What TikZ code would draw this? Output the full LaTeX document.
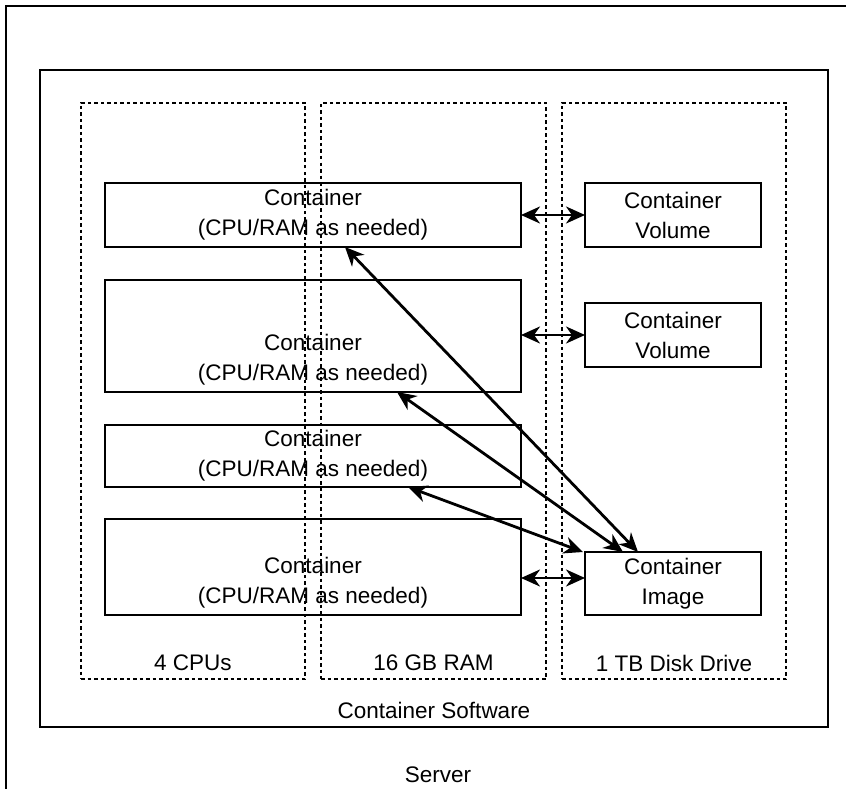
\documentclass[tikz,border=0pt]{standalone}
\usepackage{fontspec}
\setmainfont{Liberation Sans}
\usetikzlibrary{arrows.meta}

\tikzset{
  frame/.style={draw, line width=2pt, inner sep=0pt, outer sep=0pt},
  column/.style={draw, dashed, dash pattern=on 3.5pt off 3pt, line width=1.6pt, inner sep=0pt, outer sep=0pt},
  box/.style={draw, line width=1.9pt, inner sep=0pt, outer sep=0pt, align=center},
  boxtext/.style={label={[anchor=center, align=center, yshift=#1]south:Container\\(CPU/RAM as needed)}},
  bottomtext/.style 2 args={label={[anchor=center, yshift=#1]south:#2}},
  link/.style={{Stealth[length=19pt, width=17pt, inset=6pt]}-{Stealth[length=19pt, width=17pt, inset=6pt]}, line width=2.8pt}
}

\begin{document}
\begin{tikzpicture}[x=1pt, y=-1pt, font=\fontsize{22.5}{30}\selectfont]
    \useasboundingbox (0,0) rectangle (846,789);
    \clip (0,0) rectangle (846,789);

    % Server and container software
    \node[frame, minimum width=864, minimum height=804, bottomtext={35}{Server}] (server) at (438,408) {};
    \node[frame, minimum width=788, minimum height=657, bottomtext={17}{Container Software}] (software) at (434,398.5) {};

    % Resources
    \node[column, minimum width=224, minimum height=576, bottomtext={16}{4 CPUs}] (cpus) at (193,391) {};
    \node[column, minimum width=225, minimum height=576, bottomtext={16}{16 GB RAM}] (ram) at (433.5,391) {};
    \node[column, minimum width=224, minimum height=576, bottomtext={16}{1 TB Disk Drive}] (disk) at (674,391) {};

    % Containers
    \node[box, minimum width=416, minimum height=64, boxtext=32] (c1) at (313,215) {};
    \node[box, minimum width=416, minimum height=112, boxtext=32] (c2) at (313,336) {};
    \node[box, minimum width=416, minimum height=62, boxtext=31] (c3) at (313,456) {};
    \node[box, minimum width=416, minimum height=96, boxtext=32] (c4) at (313,567) {};

    % Volumes and image
    \node[box, minimum width=176, minimum height=64] (v1) at (673,215) {Container\\Volume};
    \node[box, minimum width=176, minimum height=64] (v2) at (673,335) {Container\\Volume};
    \node[box, minimum width=176, minimum height=63] (img) at (673,583.5) {Container\\Image};

    % Connections
    \draw[link] (c1.east) -- (v1.west);
    \draw[link] (c2.east |- v2.west) -- (v2.west);
    \draw[link] ([yshift=5.5pt]c4.east |- img.west) -- ([yshift=5.5pt]img.west);
    \draw[link] ([xshift=240pt]c1.south west) -- ([xshift=53pt]img.north west);
    \draw[link] ([xshift=292pt]c2.south west) -- ([xshift=38pt]img.north west);
    \draw[link] ([xshift=303pt]c3.south west) -- ([xshift=-2pt]img.north west);
\end{tikzpicture}
\end{document}
